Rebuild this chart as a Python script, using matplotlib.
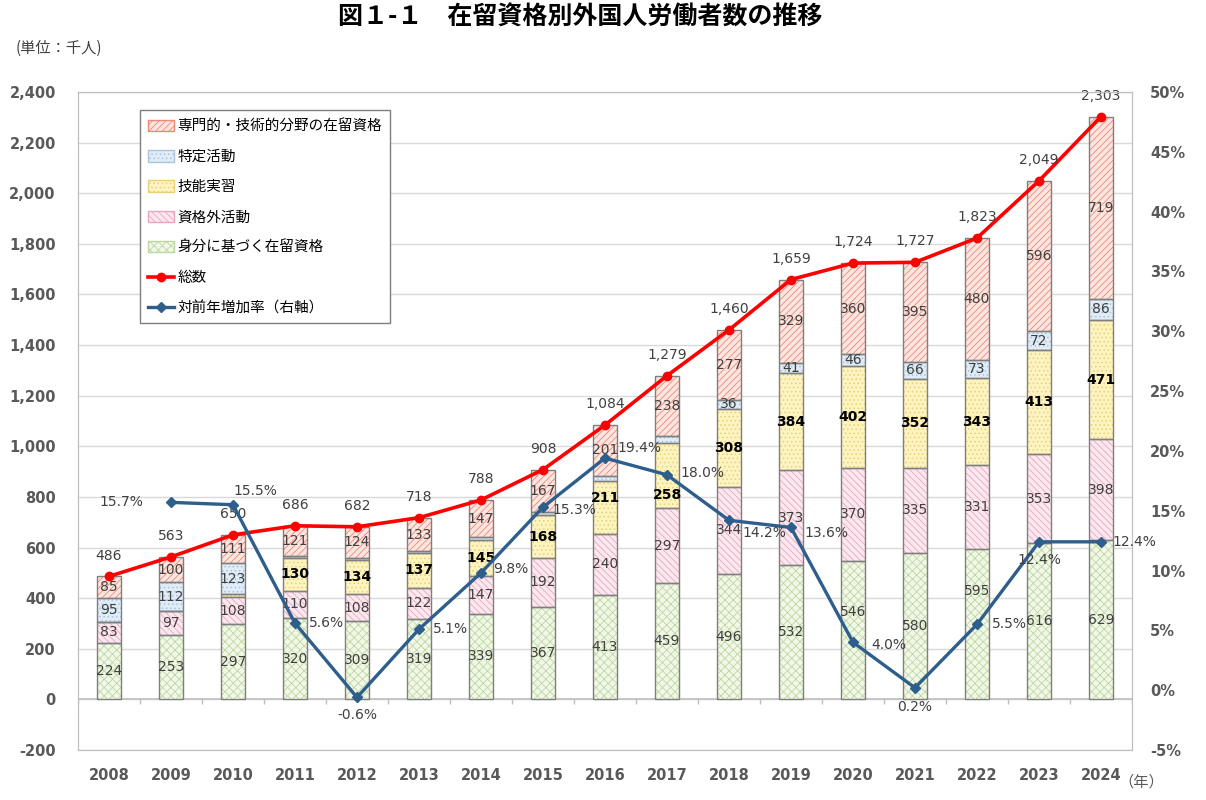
import numpy as np
import matplotlib
matplotlib.use("Agg")
import matplotlib.pyplot as plt
from matplotlib.patches import Patch
from matplotlib.lines import Line2D

plt.rcParams['font.family'] = ['DejaVu Sans', 'Noto Sans CJK JP']
plt.rcParams['hatch.linewidth'] = 0.6

# data (thousand persons)
years = list(range(2008, 2025))
mibun = [224, 253, 297, 320, 309, 319, 339, 367, 413, 459, 496, 532, 546, 580, 595, 616, 629]
shikakugai = [83, 97, 108, 110, 108, 122, 147, 192, 240, 297, 344, 373, 370, 335, 331, 353, 398]
ginou = [0, 0, 11, 130, 134, 137, 145, 168, 211, 258, 308, 384, 402, 352, 343, 413, 471]
tokutei = [95, 112, 123, 5, 7, 7, 10, 14, 19, 27, 36, 41, 46, 66, 73, 72, 86]
senmon = [85, 100, 111, 121, 124, 133, 147, 167, 201, 238, 277, 329, 360, 395, 480, 596, 719]
total = [486, 563, 650, 686, 682, 718, 788, 908, 1084, 1279, 1460, 1659, 1724, 1727, 1823, 2049, 2303]
growth = [None, 15.7, 15.5, 5.6, -0.6, 5.1, 9.8, 15.3, 19.4, 18.0, 14.2, 13.6, 4.0, 0.2, 5.5, 12.4, 12.4]

series_names = ["身分に基づく在留資格", "資格外活動", "技能実習", "特定活動", "専門的・技術的分野の在留資格"]
series_vals = [mibun, shikakugai, ginou, tokutei, senmon]
faces = ["#F2F8E8", "#FCE8EF", "#FFF4BF", "#E0ECF7", "#FDE6E0"]
hatch_cols = ["#BDD7A2", "#EAA6C0", "#E6D07A", "#ADC3DA", "#EE8878"]
hatches = ["xxxx", "\\\\\\\\\\", "....", "....", "/////"]

fig = plt.figure(figsize=(12.06, 8), dpi=100)
ax = fig.add_axes([78/1206, 50/800, 1054/1206, 658/800])
ax2 = ax.twinx()

x = np.arange(len(years))
w = 0.4
bottom = np.zeros(len(years))
for vals, fc, hc, hp in zip(series_vals, faces, hatch_cols, hatches):
    v = np.array(vals, dtype=float)
    ax.bar(x, v, w, bottom=bottom, color=fc, edgecolor=hc, hatch=hp, linewidth=0, zorder=2)
    ax.bar(x, v, w, bottom=bottom, fill=False, edgecolor="#7F7F7F", linewidth=1.0, zorder=3)
    bottom += v
seg_bottoms = np.cumsum([np.zeros(len(years))] + [np.array(s, float) for s in series_vals[:-1]], axis=0)

# a few labels were nudged in the original to stay clear of the lines
nudge = {(0, 12): 13, (0, 14): 24, (2, 9): -14, (2, 8): 7}

# segment labels
for si, vals in enumerate(series_vals):
    for i, v in enumerate(vals):
        if v < 30:
            continue
        yc = seg_bottoms[si][i] + v / 2
        kw = dict(fontweight="bold", color="black") if si == 2 else dict(color="#404040")
        ax.annotate(str(v), (x[i], yc), xytext=(0, nudge.get((si, i), 0)),
                    textcoords="offset points", ha="center", va="center",
                    fontsize=10, zorder=5, **kw)

# total line
ax.plot(x, total, color="#FF0000", lw=2.6, marker="o", ms=6, zorder=6)
for i, t in enumerate(total):
    ax.annotate(f"{t:,}", (x[i], t), xytext=(0, 15), textcoords="offset points",
                ha="center", va="center", fontsize=10, color="#404040", zorder=7)

# growth line (right axis)
gx = [x[i] for i, g in enumerate(growth) if g is not None]
gy = [g for g in growth if g is not None]
ax2.plot(gx, gy, color="#2E5E8C", lw=2.4, marker="D", ms=5, zorder=6)
offsets = [(-36, 0, "center"), (16, 10, "center"), (10, 0, "left"), (0, -13, "center"),
           (10, 0, "left"), (9, 3, "left"), (7, -2, "left"), (9, 7, "left"),
           (10, 1, "left"), (10, -9, "left"), (10, -4, "left"), (13, -2, "left"),
           (0, -14, "center"), (11, 0, "left"), (0, -13, "center"), (8, 0, "left")]
for (xi, g), (dx, dy, ha) in zip(zip(gx, gy), offsets):
    ax2.annotate(f"{g:.1f}%", (xi, g), xytext=(dx, dy), textcoords="offset points",
                 ha=ha, va="center", fontsize=10, color="#404040", zorder=7)

# axes
ax.set_xlim(-0.5, len(years) - 0.5)
ax.set_ylim(-200, 2400)
ax2.set_ylim(-5, 50)
ax.set_yticks(range(-200, 2401, 200))
ax.set_yticklabels([f"{v:,}" for v in range(-200, 2401, 200)])
ax2.set_yticks(range(-5, 51, 5))
ax2.set_yticklabels([f"{v}%" for v in range(-5, 51, 5)])
ax.set_xticks(x)
ax.set_xticklabels([str(y) for y in years])
ax.yaxis.grid(True, color="#D9D9D9", lw=1, zorder=0)
ax.set_axisbelow(True)
ax.axhline(0, color="#BFBFBF", lw=1.2, zorder=1)
ax.vlines(np.arange(len(years) + 1) - 0.5, -18, 0, color="#BFBFBF", lw=1, zorder=1)
for a in (ax, ax2):
    for s in a.spines.values():
        s.set_color("#BFBFBF")
    a.tick_params(length=0, labelsize=10.5, labelcolor="#595959")
for lab in ax.get_yticklabels() + ax2.get_yticklabels() + ax.get_xticklabels():
    lab.set_fontweight("bold")
ax.tick_params(axis="y", pad=16)
ax.tick_params(axis="x", pad=13)
ax2.tick_params(axis="y", pad=13)

# legend
handles = []
for name, fc, hc, hp in list(zip(series_names, faces, hatch_cols, hatches))[::-1]:
    handles.append(Patch(facecolor=fc, edgecolor=hc, hatch=hp, label=name))
handles.append(Line2D([], [], color="#FF0000", lw=2.6, marker="o", ms=6, label="総数"))
handles.append(Line2D([], [], color="#2E5E8C", lw=2.4, marker="D", ms=5, label="対前年増加率（右軸）"))
leg = ax.legend(handles=handles, loc="upper left", bbox_to_anchor=(0.0589, 0.972),
                borderaxespad=0, fontsize=10.5, frameon=True, fancybox=False,
                edgecolor="#7F7F7F", handlelength=1.8, handleheight=0.85,
                labelspacing=1.05, borderpad=0.55, handletextpad=0.2, framealpha=1)
leg.get_frame().set_linewidth(1)
leg.set_zorder(10)

fig.text(0.481, 0.978, "図１-１　在留資格別外国人労働者数の推移", ha="center", va="center",
         fontsize=18, fontweight="bold", family=["Noto Sans CJK JP", "DejaVu Sans"])
fig.text(0.013, 0.94, "(単位：千人)", ha="left", va="center", fontsize=11, color="#404040",
         family=["Noto Sans CJK JP", "DejaVu Sans"])
fig.text(0.946, 0.022, "（年）", ha="center", va="center", fontsize=11, color="#595959",
         family=["Noto Sans CJK JP", "DejaVu Sans"])

fig.savefig("out.png", dpi=100)
